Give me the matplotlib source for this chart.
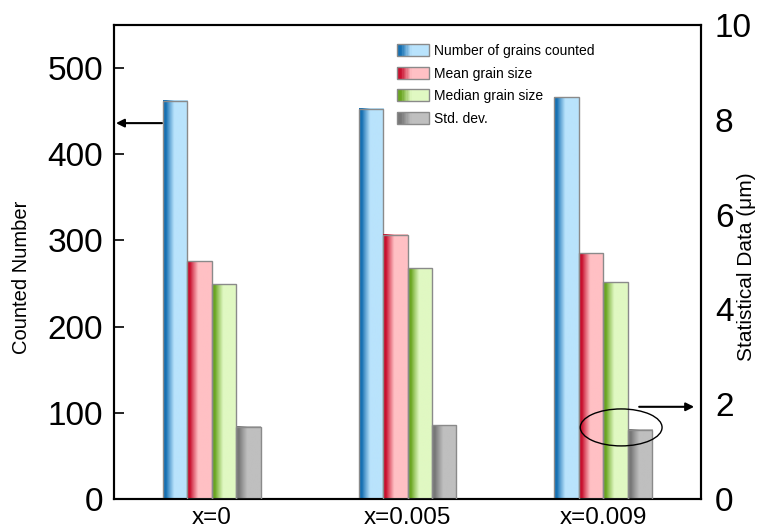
import numpy as np
import matplotlib
matplotlib.use("Agg")
import matplotlib.pyplot as plt
from matplotlib.patches import Rectangle, Ellipse
from matplotlib.legend_handler import HandlerBase
from matplotlib.colors import to_rgb

plt.rcParams['font.family'] = ['Liberation Sans', 'DejaVu Sans']

# ---- data ----
samples = ["x=0", "x=0.005", "x=0.009"]
grains_counted = [462, 453, 466]          # left axis (count)
mean_size = [5.02, 5.58, 5.18]            # right axis (um)
median_size = [4.53, 4.87, 4.57]          # right axis (um)
std_dev = [1.52, 1.56, 1.46]              # right axis (um)
series_labels = ["Number of grains counted", "Mean grain size",
                 "Median grain size", "Std. dev."]
left_ticks = [0, 100, 200, 300, 400, 500]
right_ticks = [0, 2, 4, 6, 8, 10]

# dark -> light colour pairs for the shaded bars
shades = [("#1670b2", "#b9e3fc"),
          ("#c8102e", "#ffc0c4"),
          ("#6aa521", "#e0f8c2"),
          ("#777777", "#bfbfbf")]
edge = "#8a8a8a"


def profile(n=64):
    u = np.linspace(0, 1, n)
    return np.clip((u - 0.12) / 0.33, 0, 1) ** 0.9


def gradient_image(dark, light, n=64):
    d = np.array(to_rgb(dark))
    l = np.array(to_rgb(light))
    t = profile(n)[:, None]
    row = d * (1 - t) + l * t
    return row[None, :, :]


def shaded_bar(ax, x, h, w, colors):
    img = gradient_image(*colors)
    ax.imshow(img, extent=(x - w / 2, x + w / 2, 0, h), aspect='auto',
              interpolation='bilinear', zorder=2)
    ax.add_patch(Rectangle((x - w / 2, 0), w, h, fill=False, ec=edge,
                           lw=1.0, zorder=3))


class GradientHandler(HandlerBase):
    def __init__(self, colors):
        super().__init__()
        self.colors = colors

    def create_artists(self, legend, orig_handle, xdescent, ydescent,
                       width, height, fontsize, trans):
        artists = []
        n = 24
        t = profile(n)
        d = np.array(to_rgb(self.colors[0]))
        l = np.array(to_rgb(self.colors[1]))
        for i in range(n):
            c = d * (1 - t[i]) + l * t[i]
            r = Rectangle((-xdescent + i * width / n, -ydescent),
                          width / n * 1.05, height, fc=c, ec='none',
                          transform=trans)
            artists.append(r)
        artists.append(Rectangle((-xdescent, -ydescent), width, height,
                                 fill=False, ec=edge, lw=1.0, transform=trans))
        return artists


fig = plt.figure(figsize=(7.63, 5.32), dpi=100)
ax = fig.add_axes([114 / 763, 1 - 499 / 532, 587 / 763, 474 / 532])
ax2 = ax.twinx()

x = np.arange(len(samples))
w = 0.125
offsets = np.array([-1.5, -0.5, 0.5, 1.5]) * w

for i in x:
    shaded_bar(ax, i + offsets[0], grains_counted[i], w, shades[0])
    shaded_bar(ax2, i + offsets[1], mean_size[i], w, shades[1])
    shaded_bar(ax2, i + offsets[2], median_size[i], w, shades[2])
    shaded_bar(ax2, i + offsets[3], std_dev[i], w, shades[3])

ax.set_xlim(-0.5, 2.5)
ax.set_ylim(0, 550)
ax2.set_ylim(0, 10)
ax2.set_xlim(-0.5, 2.5)

ax.set_xticks(x)
ax.set_xticklabels(samples, fontsize=17.5)
ax.set_yticks(left_ticks)
ax.set_yticklabels([str(v) for v in left_ticks], fontsize=24)
ax2.set_yticks(right_ticks)
ax2.set_yticklabels([str(v) for v in right_ticks], fontsize=24)

ax.tick_params(axis='x', length=0, pad=6)
ax.tick_params(axis='y', direction='in', length=7, width=1.2, pad=8)
ax2.tick_params(axis='y', length=0, pad=10)

for a in (ax, ax2):
    for s in a.spines.values():
        s.set_linewidth(1.5)

ax.set_ylabel("Counted Number", fontsize=14.5)
ax.yaxis.set_label_coords(-0.141, 0.468)
ax2.set_ylabel("Statistical Data (\u03bcm)", fontsize=15)
ax2.yaxis.set_label_coords(1.061, 0.49)

# arrows pointing to the axis each series belongs to
ax2.annotate("", xy=(-0.49, 7.93), xytext=(-0.255, 7.93),
             arrowprops=dict(arrowstyle="-|>", color="black", lw=1.5,
                             mutation_scale=12, shrinkA=0, shrinkB=0),
             zorder=6)
ax2.annotate("", xy=(2.465, 1.945), xytext=(2.184, 1.945),
             arrowprops=dict(arrowstyle="-|>", color="black", lw=1.5,
                             mutation_scale=12, shrinkA=0, shrinkB=0),
             zorder=6)
ax2.add_patch(Ellipse((2.092, 1.51), 0.418, 0.78, fill=False, ec="black",
                      lw=1.0, zorder=6))

# legend with shaded swatches
handles = [Rectangle((0, 0), 1, 1) for _ in series_labels]
leg = ax2.legend(handles, series_labels, loc='upper left',
                 bbox_to_anchor=(390 / 763, 1 - 37 / 532),
                 bbox_transform=fig.transFigure, frameon=False,
                 fontsize=10, handlelength=2.3, handleheight=0.95,
                 handletextpad=0.4, labelspacing=0.62, borderpad=0,
                 handler_map={h: GradientHandler(c)
                              for h, c in zip(handles, shades)})

fig.savefig("out.png", dpi=100)
